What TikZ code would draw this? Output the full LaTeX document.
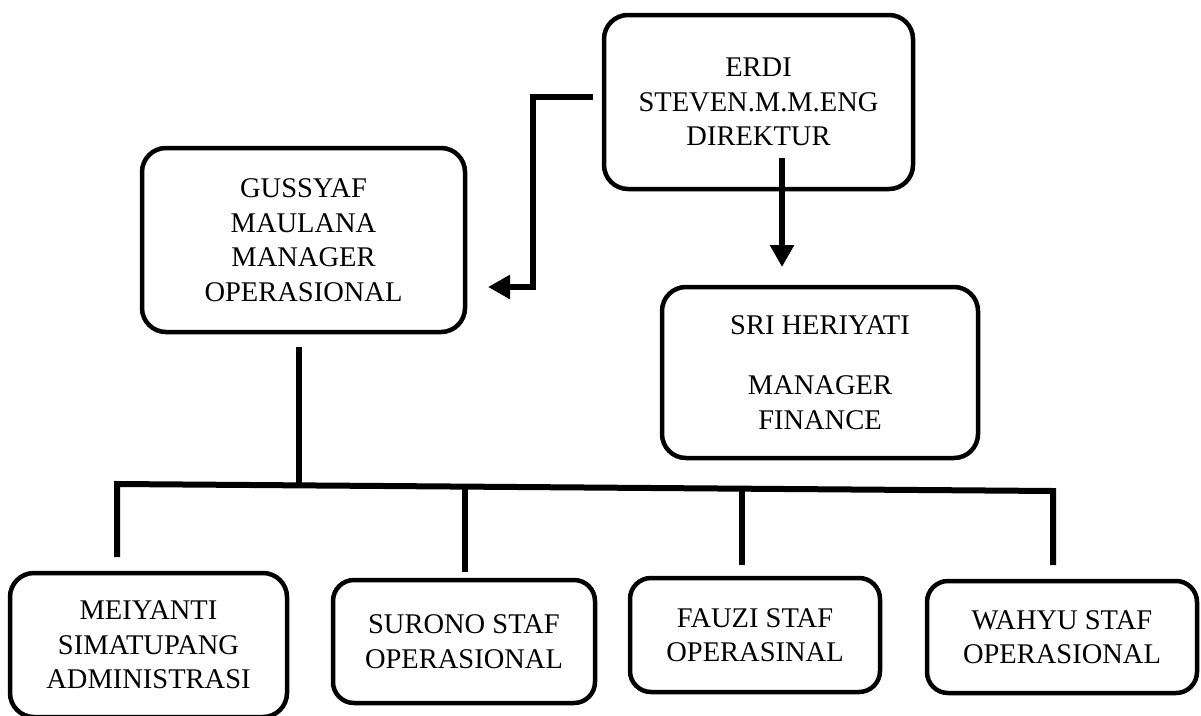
\documentclass[tikz,border=0pt]{standalone}
\usepackage{fontspec}
\setmainfont{Liberation Serif}
\usetikzlibrary{arrows.meta}

\tikzset{
  box/.style={draw, line width=4.5pt, rounded corners=24pt, align=center, inner sep=0pt,
    font=\fontsize{28.5}{34.5}\selectfont},
  link/.style={line width=6pt, line join=miter},
  arr/.style={line width=6.5pt, -{Triangle[width=23pt,length=22pt]}}
}

\begin{document}
\begin{tikzpicture}[x=1pt, y=-1pt]
  \useasboundingbox (0,0) rectangle (1201,715);
  \node[box, minimum width=309pt, minimum height=174pt] (erdi) at (758.5,102) {ERDI\\STEVEN.M.M.ENG\\DIREKTUR};
  \node[box, minimum width=323pt, minimum height=184pt] (gussyaf) at (303.5,240) {GUSSYAF\\MAULANA\\MANAGER\\OPERASIONAL};
  \node[box, minimum width=316pt, minimum height=171pt] (sri) at (820,372.5) {SRI HERIYATI\\[26pt]MANAGER\\FINANCE};
  \node[box, minimum width=277pt, minimum height=144pt] (meiyanti) at (148.5,645) {MEIYANTI\\SIMATUPANG\\ADMINISTRASI};
  \node[box, minimum width=262pt, minimum height=123pt, rounded corners=21pt] (surono) at (464,641.5) {SURONO STAF\\OPERASIONAL};
  \node[box, minimum width=250pt, minimum height=114pt, rounded corners=21pt] (fauzi) at (755,635) {FAUZI STAF\\OPERASINAL};
  \node[box, minimum width=270pt, minimum height=112pt, rounded corners=21pt] (wahyu) at (1062,637) {WAHYU STAF\\OPERASIONAL};

  \coordinate (e-out) at (593,97);
  \coordinate (e-turn) at (533,97);
  \coordinate (g-in) at (488,287);
  \coordinate (e-down) at (782,158);
  \coordinate (sri-in) at (782,267);
  \coordinate (g-out) at (299,347);
  \coordinate (g-bus) at (299,486);
  \coordinate (bus-l) at (117,484);
  \coordinate (bus-r) at (1053,491);
  \coordinate (m-in) at (117,557);
  \coordinate (s-top) at (465,489);
  \coordinate (s-in) at (465,572);
  \coordinate (f-top) at (742,490);
  \coordinate (f-in) at (742,565);
  \coordinate (w-in) at (1053,565);

  \draw[arr] (e-out) -- (e-turn) |- (g-in);
  \draw[arr] (e-down) -- (sri-in);
  \draw[link] (g-out) -- (g-bus);
  \draw[link] (m-in) -- (bus-l) -- (bus-r) -- (w-in);
  \draw[link] (s-top) -- (s-in);
  \draw[link] (f-top) -- (f-in);
\end{tikzpicture}
\end{document}
